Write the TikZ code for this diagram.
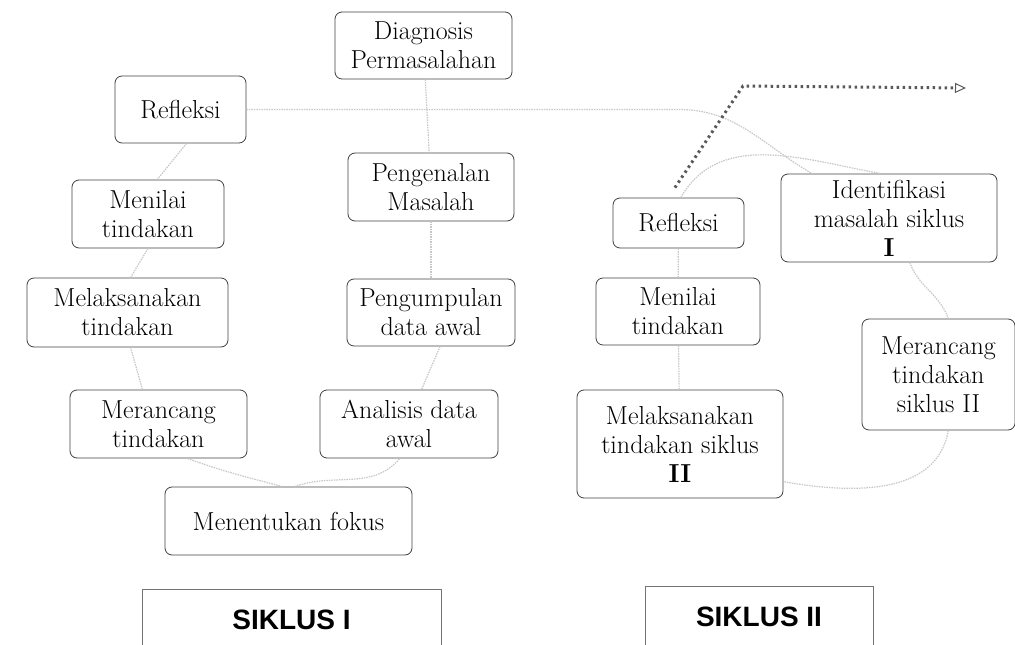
\documentclass[tikz,border=0pt]{standalone}
\usepackage{fontspec}
\newfontfamily\labelsans{Liberation Sans}
\usetikzlibrary{positioning,arrows.meta}

\begin{document}
\begin{tikzpicture}[
  x=1pt, y=-1pt,
  stage/.style  = {rectangle, rounded corners=7pt, draw=black!75, line width=0.8pt,
                   align=center, inner sep=0pt, font=\fontsize{26}{29}\selectfont},
  cyclebox/.style = {rectangle, draw=black!55, line width=0.6pt, anchor=north,
                   inner ysep=20pt, text height=20pt, text depth=40pt,
                   font=\labelsans\bfseries\fontsize{28}{30}\selectfont},
  faint/.style  = {draw=black!22, line width=1.2pt, dash pattern=on 1.5pt off 1pt},
  nextarrow/.style = {draw=black!65, line width=3pt, dash pattern=on 2.5pt off 3.5pt,
                   -{Triangle[open, length=11pt, width=10pt, line width=1pt]}}
]
\useasboundingbox (0,0) rectangle (1015,645);

% siklus I
\node[stage, minimum width=177, minimum height=67] (diag)     at (423.5,45.5) {Diagnosis\\Permasalahan};
\node[stage, minimum width=131, minimum height=67] (reflA)    at (180.5,109.5) {Refleksi};
\node[stage, minimum width=166, minimum height=68] (kenal)    at (431,187)   {Pengenalan\\Masalah};
\node[stage, minimum width=152, minimum height=68] (nilaiA)   at (148,214)   {Menilai\\tindakan};
\node[stage, minimum width=201, minimum height=69] (laksA)    at (127.5,312.5) {Melaksanakan\\tindakan};
\node[stage, minimum width=168, minimum height=67] (kumpul)   at (431,312.5) {Pengumpulan\\data awal};
\node[stage, minimum width=177, minimum height=68] (rancA)    at (158.5,424) {Merancang\\tindakan};
\node[stage, minimum width=178, minimum height=68] (analisis) at (409,424)   {Analisis data\\awal};
\node[stage, minimum width=247, minimum height=68] (fokus)    at (288.5,521) {Menentukan fokus};

% siklus II
\node[stage, minimum width=131, minimum height=50]  (reflB)  at (678.5,223) {Refleksi};
\node[stage, minimum width=216, minimum height=88]  (ident)  at (889,218)   {Identifikasi\\masalah siklus\\\textbf{I}};
\node[stage, minimum width=164, minimum height=67]  (nilaiB) at (678,311.5) {Menilai\\tindakan};
\node[stage, minimum width=206, minimum height=108] (laksB)  at (680,444)   {Melaksanakan\\tindakan siklus\\\textbf{II}};
\node[stage, minimum width=153, minimum height=111] (rancB)  at (938.5,374.5) {Merancang\\tindakan\\siklus II};

\node[cyclebox, minimum width=299] (sikA) at (291.5,589) {SIKLUS I};
\node[cyclebox, minimum width=228] (sikB) at (759,586)   {SIKLUS II};

\coordinate (bend) at (743,86);
\coordinate (next) at (966,88);

\draw[faint] (diag) -- (kenal);
\draw[faint] (kenal) -- (kumpul);
\draw[faint] (kumpul.-75) -- (analisis.70);
\draw[faint] (fokus.80) to[out=20,in=-130] (analisis.-105);
\draw[faint] (fokus.100) to[out=165,in=-20] (rancA.-50);
\draw[faint] (rancA.115) -- (laksA.-85);
\draw[faint] (laksA.85) -- (nilaiA.-90);
\draw[faint] (nilaiA.75) -- (reflA.-80);
\draw[faint] (reflA.east) -- (reflA.east -| reflB.north) to[out=0,in=150] (ident.150);
\draw[faint] (reflB.85) to[out=60,in=170] (ident.100);
\draw[faint] (ident.-65) to[out=-70,in=110] (rancB.80);
\draw[faint] (rancB.-80) to[out=-100,in=-10] (laksB.-20);
\draw[faint] (laksB) -- (nilaiB);
\draw[faint] (nilaiB) -- (reflB);

\draw[nextarrow, shorten <=12pt] (reflB.112) -- (bend) -- (next);

\end{tikzpicture}
\end{document}
